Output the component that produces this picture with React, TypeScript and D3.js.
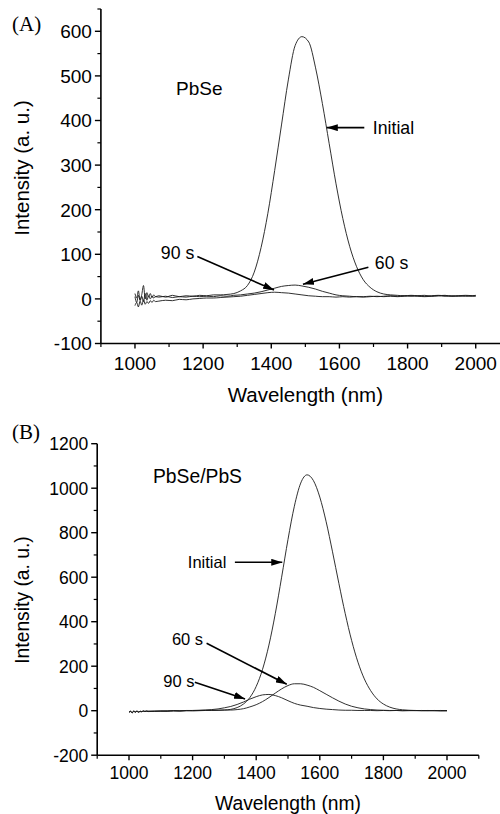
import React from 'react';
import * as d3 from 'd3';

// ---------- Panel A (PbSe) ----------
const wlA = [1000,1005,1010,1015,1020,1025,1030,1035,1040,1045,1050,1055,1060,
  1070,1090,1110,1130,1150,1170,1190,1210,1230,1250,1270,1290,1310,1330,1350,1370,1390,1410,
  1430,1450,1470,1490,1510,1530,1550,1570,1590,1610,1630,1650,1670,1690,1710,1730,1750,1770,
  1790,1810,1830,1850,1870,1890,1910,1930,1950,1970,1990,2000];
const initialA = [12,2,18,-4,10,30,0,14,4,12,3,9,5,
  7,4,8,5,7,6,8,7,9,9,10,12,18,30,60,115,192,288,
  390,491,568,588,576,518,438,348,258,180,118,73,43,26,16,11,9,8,
  7,8,7,6,7,8,7,6,7,8,7,6];
const s60A = [5,-8,8,-2,6,-6,12,-3,7,0,6,2,5,
  4,6,3,5,4,6,5,6,5,7,6,8,9,11,13,16,20,24,
  28,30,31,29,26,22,17,13,9,7,6,5,5,6,5,6,7,6,
  7,6,7,8,6,7,8,6,7,6,7,8];
const s90A = [-15,-8,-18,-5,-14,-2,-12,-6,-10,-4,-8,-3,-6,
  -5,-3,-4,-1,-2,0,1,2,2,3,4,5,6,8,10,12,14,15,
  14,13,11,9,7,6,5,5,4,5,4,5,4,5,6,5,6,5,
  6,7,6,5,6,7,6,7,6,7,6,7];
const yTicksA = [-100,0,100,200,300,400,500,600];
const yMinorA = [-50,50,150,250,350,450,550,650];

// ---------- Panel B (PbSe/PbS) ----------
const wlB = [1000,1005,1010,1015,1020,1025,1030,1035,1040,1045,1050,1055,1060,
  1080,1100,1120,1140,1160,1180,1200,1220,1240,1260,1280,1300,1320,1340,1360,1380,1400,1420,
  1440,1460,1480,1500,1520,1540,1560,1580,1600,1620,1640,1660,1680,1700,1720,1740,1760,1780,
  1800,1820,1840,1860,1880,1900,1920,1940,1960,1980,2000];
const initialB = [-8,-4,-10,-3,-7,-2,-6,-4,-5,-2,-4,-3,-4,
  -3,-2,-3,-1,-2,0,-1,0,1,1,2,3,6,14,30,59,109,186,
  295,436,600,770,919,1023,1060,1034,960,849,714,572,436,316,218,143,90,53,
  30,16,8,4,2,1,0,1,0,-1,0];
const s60B = [-6,-2,-9,-1,-5,-3,-7,-2,-4,-1,-3,-2,-3,
  -2,-2,-1,0,-1,0,1,1,2,2,2,3,3,5,9,17,27,41,
  59,79,98,113,121,121,115,105,90,74,58,43,30,20,13,8,5,3,
  2,1,1,0,1,0,1,0,0,1,0];
const s90B = [-7,-3,-8,-2,-6,-1,-5,-3,-4,-2,-3,-1,-2,
  -2,-1,-1,0,0,1,1,2,3,5,8,13,19,28,39,52,63,71,
  73,68,58,45,33,25,20,14,10,7,5,3,2,2,1,1,1,0,
  1,0,1,0,0,1,0,0,1,0,0];
const yTicksB = [-200,0,200,400,600,800,1000,1200];
const yMinorB = [-100,100,300,500,700,900,1100];

const xTicks = [1000,1200,1400,1600,1800,2000];
const xMinor = [900,1100,1300,1500,1700,1900,2100];

// annotations in data units: label position, arrow tail, arrow tip
type Ann = { text: string; tx: number; ty: number; x0: number; y0: number; x1: number; y1: number };
const annA: Ann[] = [
  { text: 'Initial', tx: 1698, ty: 370, x0: 1673, y0: 384, x1: 1563, y1: 384 },
  { text: '90 s', tx: 1076, ty: 89, x0: 1183, y0: 95, x1: 1408, y1: 20 },
  { text: '60 s', tx: 1704, ty: 68, x0: 1685, y0: 71, x1: 1493, y1: 33 },
];
const annB: Ann[] = [
  { text: 'Initial', tx: 1185, ty: 641, x0: 1333, y0: 667, x1: 1482, y1: 667 },
  { text: '60 s', tx: 1135, ty: 295, x0: 1244, y0: 303, x1: 1496, y1: 119 },
  { text: '90 s', tx: 1108, ty: 106, x0: 1207, y0: 128, x1: 1365, y1: 53 },
];

const SANS = "'Liberation Sans', Arial, Helvetica, sans-serif";
const SERIF = "'Liberation Serif', 'Times New Roman', serif";

type PanelProps = {
  id: string;
  wl: number[];
  series: number[][];
  x: d3.ScaleLinear<number, number>;
  y: d3.ScaleLinear<number, number>;
  yTicks: number[];
  yMinor: number[];
  anns: Ann[];
  name: string;
  nameX: number;
  nameY: number;
  tag: string;
  tagX: number;
  tagY: number;
  fTick: number;
  fTitle: number;
  fAnn: number;
  fName: number;
  yTitleY: number;
  xTickY: number;
  xTitleY: number;
};

function Panel(p: PanelProps) {
  const { x, y } = p;
  const ax = x(900);
  const ay = y(p.y.domain()[0]);
  const yTop = y(p.y.domain()[1]);
  const xEnd = x(2100);
  const line = d3.line<number>().x((_, i) => x(p.wl[i])).y((v) => y(v)).curve(d3.curveMonotoneX);
  return (
    <g>
      {p.series.map((s, i) => (
        <path key={i} d={line(s) || ''} fill="none" stroke="#1a1a1a" strokeWidth={0.9} strokeLinejoin="round" />
      ))}
      {/* axes */}
      <line x1={ax} x2={ax} y1={yTop} y2={ay} stroke="#000" strokeWidth={1.6} />
      <line x1={ax} x2={xEnd} y1={ay} y2={ay} stroke="#000" strokeWidth={1.6} />
      {p.yTicks.map((t) => (
        <g key={'yt' + t}>
          <line x1={ax - 6} x2={ax} y1={y(t)} y2={y(t)} stroke="#000" strokeWidth={1.4} />
          <text x={ax - 9} y={y(t) + p.fTick * 0.36} textAnchor="end" fontFamily={SANS} fontSize={p.fTick}>{t}</text>
        </g>
      ))}
      {p.yMinor.map((t) => (
        <line key={'ym' + t} x1={ax - 3.5} x2={ax} y1={y(t)} y2={y(t)} stroke="#000" strokeWidth={1.2} />
      ))}
      {xTicks.map((t) => (
        <g key={'xt' + t}>
          <line x1={x(t)} x2={x(t)} y1={ay} y2={ay + 5} stroke="#000" strokeWidth={1.4} />
          <text x={x(t)} y={p.xTickY} textAnchor="middle" fontFamily={SANS} fontSize={p.fTick}>{t}</text>
        </g>
      ))}
      {xMinor.map((t) => (
        <line key={'xm' + t} x1={x(t)} x2={x(t)} y1={ay} y2={ay + 3.5} stroke="#000" strokeWidth={1.2} />
      ))}
      <text x={(ax + xEnd) / 2} y={p.xTitleY} textAnchor="middle" fontFamily={SANS} fontSize={p.fTitle}>Wavelength (nm)</text>
      <text transform={`translate(${22 + p.fTitle * 0.35},${p.yTitleY}) rotate(-90)`} textAnchor="middle" fontFamily={SANS} fontSize={p.fTitle}>Intensity (a. u.)</text>
      <text x={p.tagX} y={p.tagY} fontFamily={SERIF} fontSize={21}>{p.tag}</text>
      <text x={p.nameX} y={p.nameY} fontFamily={SANS} fontSize={p.fName}>{p.name}</text>
      {p.anns.map((a) => (
        <g key={a.text}>
          <text x={x(a.tx)} y={y(a.ty)} fontFamily={SANS} fontSize={p.fAnn}>{a.text}</text>
          <line x1={x(a.x0)} y1={y(a.y0)} x2={x(a.x1)} y2={y(a.y1)} stroke="#000" strokeWidth={1.6} markerEnd={`url(#arr${p.id})`} />
        </g>
      ))}
    </g>
  );
}

export default function App() {
  const xA = d3.scaleLinear().domain([900, 2100]).range([100.9, 509.8]);
  const yA = d3.scaleLinear().domain([-100, 650]).range([343.5, 9]);
  const xB = d3.scaleLinear().domain([900, 2100]).range([97.2, 478.8]);
  const yB = d3.scaleLinear().domain([-200, 1200]).range([755.2, 443.7]);
  return (
    <svg width={500} height={814} style={{ position: 'absolute', left: 0, top: 0, background: '#fff' }}>
      <defs>
        {['A', 'B'].map((k) => (
          <marker key={k} id={`arr${k}`} markerUnits="userSpaceOnUse" markerWidth={11} markerHeight={7} refX={11} refY={3.5} orient="auto">
            <path d="M0,0 L11,3.5 L0,7 Z" fill="#000" />
          </marker>
        ))}
      </defs>
      <rect width={500} height={814} fill="#fff" />
      <Panel id="A" wl={wlA} series={[initialA, s60A, s90A]} x={xA} y={yA} yTicks={yTicksA} yMinor={yMinorA}
        anns={annA} name="PbSe" nameX={176} nameY={95} tag="(A)" tagX={12} tagY={31}
        fTick={19} fTitle={20.5} fAnn={17.7} fName={19} yTitleY={168} xTickY={370} xTitleY={402} />
      <Panel id="B" wl={wlB} series={[initialB, s60B, s90B]} x={xB} y={yB} yTicks={yTicksB} yMinor={yMinorB}
        anns={annB} name="PbSe/PbS" nameX={153} nameY={483} tag="(B)" tagX={12} tagY={439}
        fTick={17.5} fTitle={19.3} fAnn={16.5} fName={19.3} yTitleY={600} xTickY={779} xTitleY={810} />
    </svg>
  );
}
